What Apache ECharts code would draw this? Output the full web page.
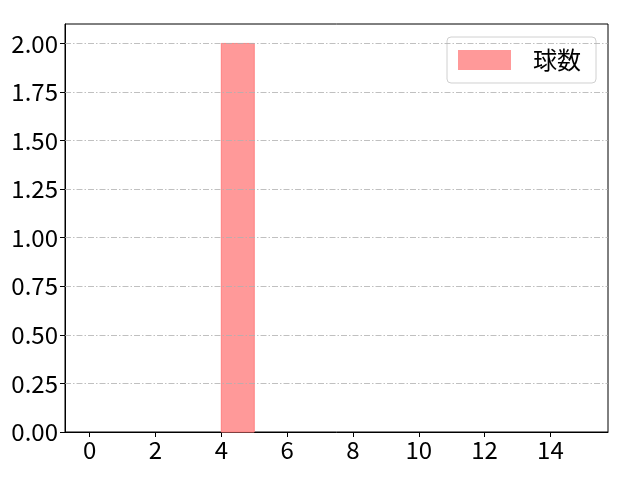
<!DOCTYPE html>
<html>
<head>
<meta charset="utf-8">
<script src="https://cdn.jsdelivr.net/npm/echarts@6/dist/echarts.min.js"></script>
<style>html,body{margin:0;padding:0;background:#fff;}#c{width:640px;height:480px;}</style>
</head>
<body>
<div id="c"></div>
<script>
// histogram bins: [left edge, right edge, count]
const binLeft = [4];
const binRight = [5];
const counts = [2];
const seriesName = '球数';
const xTicks = [0, 2, 4, 6, 8, 10, 12, 14];
const yTicks = [0, 0.25, 0.5, 0.75, 1.0, 1.25, 1.5, 1.75, 2.0];

const data = binLeft.map((l, i) => [l, binRight[i], counts[i]]);
const font = '"Noto Sans CJK JP", "Noto Sans", sans-serif';
const chart = echarts.init(document.getElementById('c'));
chart.setOption({
  animation: false,
  backgroundColor: '#fff',
  grid: { left: 65, right: 32, top: 24, bottom: 48, show: true, borderColor: '#000', borderWidth: 1, backgroundColor: 'transparent' },
  legend: {
    right: 44, top: 37,
    data: [seriesName],
    icon: 'rect',
    itemWidth: 53, itemHeight: 20,
    padding: [11, 15, 11, 11],
    borderColor: '#d0d0d0', borderWidth: 1, borderRadius: 4,
    backgroundColor: '#fff',
    textStyle: { fontFamily: font, fontSize: 24, color: '#000', padding: [0, 0, 0, 17] }
  },
  xAxis: {
    type: 'value', min: -0.75, max: 15.75,
    axisLine: { show: true, onZero: false, lineStyle: { color: '#000', width: 1 } },
    axisTick: { show: true, length: 5, customValues: xTicks, lineStyle: { color: '#000' } },
    axisLabel: { customValues: xTicks, fontFamily: font, fontSize: 24, color: '#000', margin: 6 },
    splitLine: { show: false }
  },
  yAxis: {
    type: 'value', min: 0, max: 2.1,
    axisLine: { show: true, onZero: false, lineStyle: { color: '#000', width: 1 } },
    axisTick: { show: true, length: 5, customValues: yTicks, lineStyle: { color: '#000' } },
    axisLabel: { customValues: yTicks, fontFamily: font, fontSize: 24, color: '#000', margin: 7,
      formatter: v => v.toFixed(2) },
    splitLine: { show: false }
  },
  series: [
    {
      type: 'line', data: [], silent: true,
      markLine: {
        silent: true, symbol: 'none', label: { show: false },
        lineStyle: { color: '#b0b0b0', width: 0.8, type: [6, 2, 1.5, 2] },
        data: yTicks.filter(v => v > 0).map(v => ({ yAxis: v }))
      }
    },
    {
      name: seriesName,
      type: 'custom',
      itemStyle: { color: '#ff9999', borderColor: '#ff8080' },
      data: data,
      renderItem: function (params, api) {
        const p0 = api.coord([api.value(0), 0]);
        const p1 = api.coord([api.value(1), api.value(2)]);
        return {
          type: 'rect',
          shape: { x: p0[0], y: p1[1], width: p1[0] - p0[0], height: p0[1] - p1[1] },
          style: { fill: '#ff9999', stroke: '#ff8080', lineWidth: 1 }
        };
      },
      encode: { x: [0, 1], y: 2 }
    }
  ]
});
</script>
</body>
</html>
